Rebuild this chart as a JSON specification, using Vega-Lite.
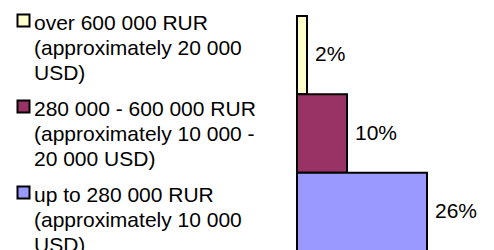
{
  "$schema": "https://vega.github.io/schema/vega-lite/v6.json",
  "width": 197,
  "height": 235,
  "autosize": "none",
  "padding": {"left": 297, "top": 16, "right": 0, "bottom": 0},
  "background": "white",
  "config": {
    "view": {"stroke": null},
    "font": "Liberation Sans",
    "style": {"guide-label": {"lineHeight": 25}}
  },
  "data": {
    "values": [
      {"category": "over 600 000 RUR|(approximately 20 000|USD)", "pct": 2, "share": "2%"},
      {"category": "280 000 - 600 000 RUR|(approximately 10 000 -|20 000 USD)", "pct": 10, "share": "10%"},
      {"category": "up to 280 000 RUR|(approximately 10 000|USD)", "pct": 26, "share": "26%"}
    ]
  },
  "encoding": {
    "y": {
      "field": "category",
      "type": "nominal",
      "sort": ["over 600 000 RUR|(approximately 20 000|USD)", "280 000 - 600 000 RUR|(approximately 10 000 -|20 000 USD)", "up to 280 000 RUR|(approximately 10 000|USD)"],
      "axis": null,
      "scale": {"paddingInner": 0, "paddingOuter": 0}
    }
  },
  "layer": [
    {
      "mark": {"type": "bar", "stroke": "black", "strokeWidth": 2, "opacity": 1},
      "encoding": {
        "x": {"field": "pct", "type": "quantitative", "axis": null, "scale": {"domain": [0, 39.4], "nice": false, "zero": true}},
        "color": {
          "field": "category",
          "type": "nominal",
          "scale": {
            "domain": ["over 600 000 RUR|(approximately 20 000|USD)", "280 000 - 600 000 RUR|(approximately 10 000 -|20 000 USD)", "up to 280 000 RUR|(approximately 10 000|USD)"],
            "range": ["#FFFFCC", "#993366", "#9999FF"]
          },
          "legend": {
            "title": null,
            "orient": "none",
            "legendX": -283,
            "legendY": 3,
            "padding": 0,
            "labelExpr": "split(datum.label, '|')",
            "labelFont": "Liberation Sans",
            "labelFontSize": 21,
            "labelColor": "black",
            "labelBaseline": "alphabetic",
            "labelLimit": 400,
            "labelOffset": 0,
            "symbolOffset": -1,
            "symbolType": "M-1,-2.5H1V-0.5H-1Z",
            "symbolSize": 144,
            "symbolStrokeColor": "black",
            "symbolStrokeWidth": 2,
            "symbolOpacity": 1,
            "rowPadding": 12
          }
        }
      }
    },
    {
      "mark": {"type": "text", "align": "left", "baseline": "middle", "dx": 8, "fontSize": 21, "font": "Liberation Sans", "color": "black"},
      "encoding": {
        "x": {"field": "pct", "type": "quantitative"},
        "text": {"field": "share"}
      }
    }
  ]
}
